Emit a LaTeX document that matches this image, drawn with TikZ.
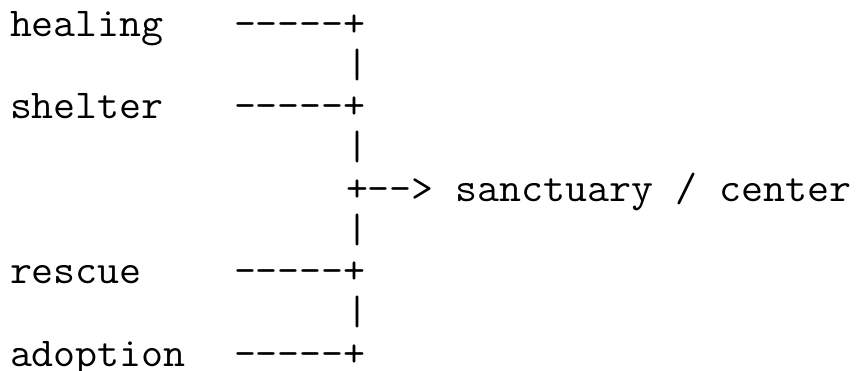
\documentclass[tikz,border=0pt]{standalone}
\usepackage{graphicx}
\newcommand{\wide}[1]{\scalebox{1.041}[1]{#1}}
\tikzset{
  txt/.style={anchor=base west, inner sep=0pt, outer sep=0pt,
    font=\ttfamily\fontsize{41pt}{41pt}\selectfont, text=black}
}
\begin{document}
\begin{tikzpicture}[x=1pt,y=1pt]
\path[fill=white] (0,0) rectangle (865,-370);
\useasboundingbox (0,0) rectangle (865,-370);
% columns: x = 10 + c*22.4 ; rows: baseline y = -(36 + 41.25 r)
\node[txt] (healing)  at (10,-36)      {\wide{healing}};
\node[txt] (hdash)    at (234,-36)     {\wide{-----+}};
\node[txt] (bar1)     at (346,-77.25)  {\wide{|}};
\node[txt] (shelter)  at (10,-118.5)   {\wide{shelter}};
\node[txt] (sdash)    at (234,-118.5)  {\wide{-----+}};
\node[txt] (bar2)     at (346,-159.75) {\wide{|}};
\node[txt] (center)   at (346,-201)    {\wide{+-->\ sanctuary\ /\ center}};
\node[txt] (bar3)     at (346,-242.25) {\wide{|}};
\node[txt] (rescue)   at (10,-283.5)   {\wide{rescue}};
\node[txt] (rdash)    at (234,-283.5)  {\wide{-----+}};
\node[txt] (bar4)     at (346,-324.75) {\wide{|}};
\node[txt] (adoption) at (10,-366)     {\wide{adoption}};
\node[txt] (adash)    at (234,-366)    {\wide{-----+}};
\end{tikzpicture}
\end{document}
